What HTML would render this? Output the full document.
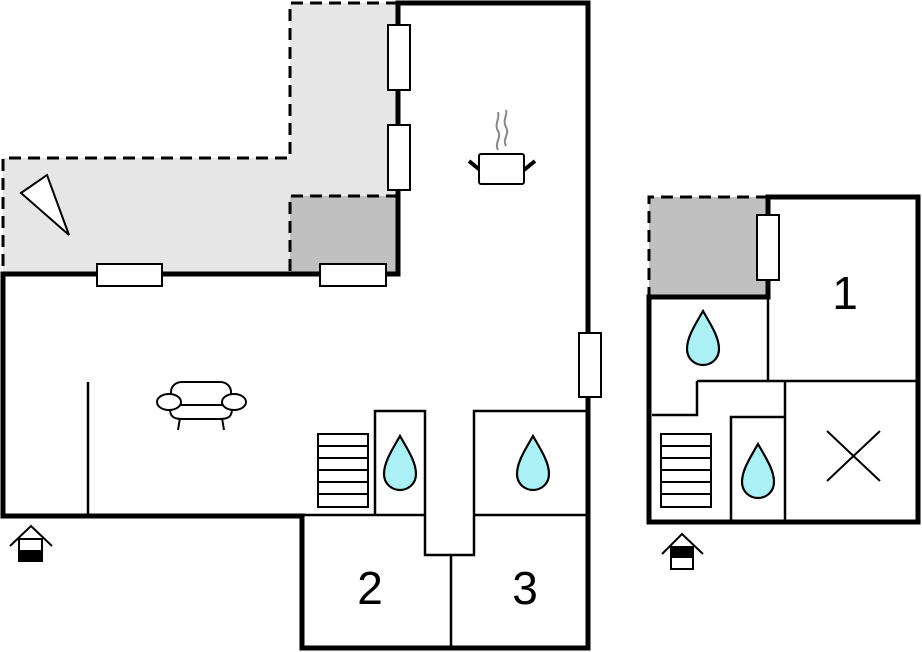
<!DOCTYPE html>
<html><head><style>html,body{margin:0;padding:0;background:#fff}svg{display:block}</style></head>
<body>
<svg width="922" height="652" viewBox="0 0 922 652" xmlns="http://www.w3.org/2000/svg" font-family="Liberation Sans, sans-serif">
<path d="M290 3H398V158H290Z M3 158H398V274H3Z" fill="#e6e6e6"/>
<rect x="290" y="196" width="108" height="78" fill="#c0c0c0"/>
<rect x="649" y="197" width="119" height="100" fill="#c0c0c0"/>
<g fill="none" stroke="#000" stroke-width="3" stroke-dasharray="12,7">
<path d="M398 3H290V158H3V274"/>
<path d="M398 196H290V274"/>
<path d="M768 197H649V297"/>
</g>
<g fill="none" stroke="#000" stroke-width="5" stroke-linecap="square">
<path d="M398 274V3H588V648H302V516H3V274H398"/>
<path d="M918 197V522H649V297H768V197H918"/>
</g>
<g fill="none" stroke="#000" stroke-width="2.5">
<path d="M88 382V516"/>
<path d="M302 515H425M474 515H588"/>
<path d="M375 515V411H425V555H474V411H588"/>
<path d="M451 555V648"/>
<path d="M768 297V381M697 381H918M697 381V415H652M785 381V522M731 522V417H785"/>
</g>
<g fill="#fff" stroke="#000" stroke-width="2">
<rect x="388" y="25" width="22" height="65"/>
<rect x="388" y="125" width="22" height="65"/>
<rect x="97" y="264" width="65" height="22"/>
<rect x="320" y="264" width="66" height="22"/>
<rect x="579" y="333" width="22" height="64"/>
<rect x="757" y="215" width="22" height="65"/>
</g>
<g fill="#fff" stroke="#000" stroke-width="2">
<rect x="318" y="434" width="50" height="73"/>
<path d="M318 446H368M318 458H368M318 470H368M318 482H368M318 494H368"/>
<rect x="661" y="434" width="50" height="73"/>
<path d="M661 446H711M661 458H711M661 470H711M661 482H711M661 494H711"/>
</g>
<g fill="#aaf0f5" stroke="#000" stroke-width="2.2">
<path d="M400 436C392 450 384 462 384 474C384 484 392 490 400 490C408 490 416 484 416 474C416 462 408 450 400 436Z"/>
<path d="M533 436C525 450 517 462 517 474C517 484 525 490 533 490C541 490 549 484 549 474C549 462 541 450 533 436Z"/>
<path d="M703 311C695 325 687 337 687 349C687 359 695 365 703 365C711 365 719 359 719 349C719 337 711 325 703 311Z"/>
<path d="M758 444C750 458 742 470 742 482C742 492 750 498 758 498C766 498 774 492 774 482C774 470 766 458 758 444Z"/>
</g>
<path d="M827 431L880 481M880 431L827 481" stroke="#000" stroke-width="2"/>
<path d="M21 193L47 175L69 235Z" fill="#fff" stroke="#000" stroke-width="2"/>
<g fill="#fff" stroke="#000" stroke-width="2">
<path d="M180 418L178 430M222 418L224 430"/>
<path d="M171 402C167 419 176 419 184 419H218C226 419 235 419 231 402Z"/>
<path d="M171 403V392C171 386 176 382 182 382H220C226 382 231 386 231 392V405H171Z"/>
<ellipse cx="169" cy="402" rx="12" ry="8"/>
<ellipse cx="234" cy="402" rx="12" ry="8"/>
</g>
<g fill="none">
<path d="M498 150C494 143 502 138 498 131C494 124 500 119 498 112M506 146C502 139 510 134 506 127C502 120 508 115 506 110" stroke="#888" stroke-width="2"/>
<path d="M469 161L480 170M535 161L524 170" stroke="#000" stroke-width="4"/>
<rect x="479" y="154" width="45" height="30" rx="2" fill="#fff" stroke="#000" stroke-width="2"/>
</g>
<g stroke="#000" stroke-width="2" fill="none">
<path d="M10 546L31 526L52 546"/>
<rect x="19" y="539" width="23" height="22" fill="#fff"/>
<rect x="19" y="551" width="23" height="10" fill="#000"/>
<path d="M662 554L682 534L703 554"/>
<rect x="671" y="547" width="22" height="22" fill="#fff"/>
<rect x="671" y="547" width="22" height="10" fill="#000"/>
</g>
<g font-size="46" text-anchor="middle" fill="#000">
<text x="370" y="604">2</text>
<text x="525" y="604">3</text>
<text x="845" y="309">1</text>
</g>
</svg>
</body></html>
